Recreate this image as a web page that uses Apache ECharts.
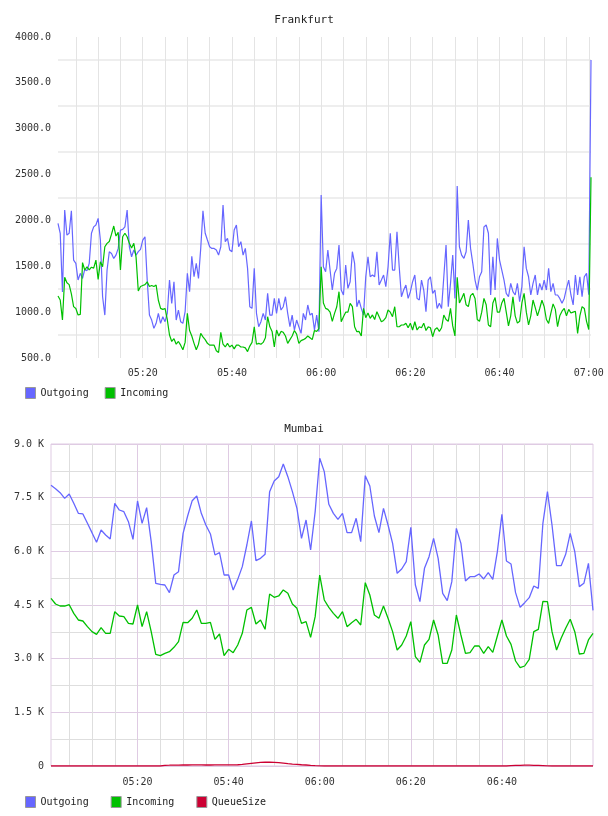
<!DOCTYPE html>
<html><head><meta charset="utf-8">
<script src="https://cdn.jsdelivr.net/npm/echarts@6/dist/echarts.min.js"></script>
<style>html,body{margin:0;padding:0;background:#fff}#c{width:608px;height:816px}</style>
</head><body><div id="c"></div>
<script>
// ---------- Frankfurt (30 s samples from 05:01:00) ----------
const fraStart = '05:01:00';
const fraStepSec = 30;
const fraOutgoing = [
 1968,1860,1220,2113,1840,1860,2105,1568,1532,1350,
 1423,1368,1466,1452,1532,1860,1930,1950,2022,1786,
 1168,968,1459,1659,1640,1586,1622,1695,1895,1902,
 1930,2113,1713,1604,1677,1622,1659,1684,1786,1822,
 1350,968,914,823,878,987,878,950,896,987,
 1350,1096,1332,914,1023,896,878,1005,1423,1223,
 1610,1386,1532,1368,1695,2105,1860,1786,1713,1695,
 1695,1677,1622,1713,2168,1768,1804,1677,1659,1895,
 1950,1713,1768,1622,1695,1477,1059,1041,1477,987,
 841,896,987,914,1205,968,968,1150,987,1150,
 1023,1059,1168,987,841,968,805,914,841,769,
 987,914,1078,968,987,805,968,787,2277,1495,
 1440,1677,1459,1241,1423,1477,1732,1241,1187,1514,
 1259,1332,1659,1532,1059,1132,1041,968,1386,1604,
 1386,1405,1386,1659,1296,1350,1405,1277,1495,1860,
 1459,1459,1877,1495,1168,1241,1296,1150,1223,1332,
 1405,1150,1132,1350,1241,1005,1350,1386,1205,1241,
 1041,1096,1041,1386,1732,1059,1314,1622,1150,2375,
 1713,1622,1586,1659,2004,1695,1532,1350,1241,1386,
 1440,1930,1950,1860,1187,1604,1241,1804,1568,1459,
 1350,1205,1168,1314,1223,1187,1314,1114,1277,1713,
 1477,1386,1187,1314,1405,1187,1314,1241,1350,1241,
 1477,1223,1314,1187,1187,1150,1096,1150,1259,1350,
 1187,1078,1405,1187,1386,1168,1386,1423,1190,3750
];
const fraIncoming = [
 1176,1132,914,1380,1320,1300,1200,1060,1040,969,
 975,1540,1459,1495,1460,1490,1480,1568,1357,1550,
 1495,1713,1750,1770,1850,1939,1830,1870,1459,1822,
 1860,1822,1750,1700,1750,1600,1230,1280,1290,1300,
 1330,1280,1290,1280,1295,1130,1041,1030,1040,920,
 751,680,710,650,680,640,590,670,987,800,
 740,660,590,650,769,730,700,660,640,640,
 640,580,560,780,650,620,660,620,640,600,
 640,640,620,620,610,570,630,670,840,650,
 660,650,670,720,950,840,790,620,805,740,
 790,780,740,660,700,740,800,760,660,690,
 700,714,740,720,700,800,790,820,1495,1100,
 1041,1030,1000,900,987,1059,1223,896,950,1000,
 1000,1096,1060,841,787,790,740,1041,940,990,
 932,970,920,1005,950,896,910,940,1023,1000,
 950,1059,841,841,860,860,878,830,880,805,
 895,805,840,830,880,800,840,830,732,810,
 830,790,830,969,920,900,1041,850,740,1380,
 1100,1150,1205,1080,1060,1180,1205,1150,920,900,
 1000,1150,1080,860,841,1100,1160,1000,1000,1100,
 1150,1000,850,960,1168,960,880,900,1100,1205,
 1000,860,960,1132,1050,960,1040,1130,1060,920,
 878,990,1090,1030,841,960,1010,1040,960,1030,
 990,1000,1010,769,960,1060,1040,900,810,2470
];
const fraYTicks = [500, 4000, 500]; // min, max, step

// ---------- Mumbai (1 min samples from 05:01:00) ----------
const mumStart = '05:01:00';
const mumStepSec = 60;
const mumOutgoing = [
 7845,7752,7640,7481,7603,7342,7062,7044,6783,6522,
 6252,6596,6457,6345,7342,7155,7109,6829,6335,7407,
 6783,7221,6270,5106,5078,5059,4845,5339,5432,6503,
 6988,7416,7547,7062,6736,6485,5898,5963,5339,5339,
 4919,5217,5572,6177,6848,5739,5804,5916,7668,7966,
 8087,8441,8087,7668,7202,6363,6876,6037,7109,8600,
 8227,7314,7062,6895,7062,6522,6522,6923,6270,8115,
 7826,6988,6522,7202,6736,6224,5385,5506,5711,6671,
 5059,4593,5525,5851,6363,5804,4826,4621,5152,6643,
 6224,5171,5292,5292,5367,5227,5404,5217,5991,7035,
 5730,5646,4845,4435,4565,4705,5031,4966,6783,7668,
 6736,5600,5600,5916,6503,5991,5013,5106,5665,4350
];
const mumIncoming = [
 4687,4528,4472,4472,4509,4267,4081,4053,3894,3755,
 3680,3866,3708,3708,4314,4193,4174,3988,3969,4500,
 3894,4314,3755,3121,3084,3149,3196,3317,3475,4016,
 4006,4128,4360,3988,3988,4016,3540,3690,3084,3261,
 3168,3382,3708,4360,4435,3969,4081,3820,4807,4715,
 4752,4920,4826,4528,4407,3988,4034,3596,4174,5338,
 4640,4435,4267,4128,4314,3894,4006,4100,3941,5124,
 4780,4221,4128,4472,4128,3755,3242,3382,3634,4034,
 3056,2897,3382,3540,4081,3662,2870,2870,3242,4221,
 3662,3149,3168,3354,3354,3149,3335,3177,3634,4081,
 3634,3401,2935,2749,2795,2981,3755,3820,4600,4593,
 3755,3242,3568,3848,4100,3755,3130,3149,3522,3708
];
const mumQueue = [
 0,0,0,0,0,0,0,0,0,0,
 0,0,0,0,0,0,0,0,0,0,
 0,0,0,0,0,20,22,25,25,28,
 28,30,30,30,28,28,30,30,30,30,
 32,35,45,60,75,90,100,105,105,102,
 95,82,68,55,45,35,28,18,10,5,
 0,0,0,0,0,0,0,0,0,0,
 0,0,0,0,0,0,0,0,0,0,
 0,0,0,0,0,0,0,0,0,0,
 0,0,0,0,0,0,0,0,0,0,
 0,8,15,20,22,22,20,18,12,6,
 0,0,0,0,0,0,0,0,0,0
];
const mumYTicks = [0, 9000, 1500];

const seriesNames = ['Outgoing', 'Incoming', 'QueueSize'];
const seriesColors = ['#6666ff', '#00c000', '#cc0033'];

function makeTimes(start, stepSec, count) {
  const p = start.split(':').map(Number);
  let t = p[0] * 3600 + p[1] * 60 + p[2];
  const out = [];
  const pad = n => String(n).padStart(2, '0');
  for (let i = 0; i < count; i++) {
    out.push(pad(Math.floor(t / 3600)) + ':' + pad(Math.floor(t / 60) % 60) + ':' + pad(t % 60));
    t += stepSec;
  }
  return out;
}
const fraTimes = makeTimes(fraStart, fraStepSec, fraOutgoing.length);
const mumTimes = makeTimes(mumStart, mumStepSec, mumOutgoing.length);

function isMark(v, m) {
  return v.slice(6) === '00' && parseInt(v.slice(3, 5), 10) % m === 0;
}

const FONT = '"DejaVu Sans Mono", monospace';
const labelStyle = { fontFamily: FONT, fontSize: 10, color: '#333' };
const PURPLE = '#dfcbe3';
const GRAY = '#dedede';

const chart = echarts.init(document.getElementById('c'), null, { renderer: 'canvas' });
chart.setOption({
  animation: false,
  backgroundColor: '#fff',
  title: [
    { text: 'Frankfurt', left: 'center', top: 15, padding: 0,
      textStyle: { fontFamily: FONT, fontSize: 11, fontWeight: 'normal', color: '#222' } },
    { text: 'Mumbai', left: 'center', top: 424, padding: 0,
      textStyle: { fontFamily: FONT, fontSize: 11, fontWeight: 'normal', color: '#222' } }
  ],
  legend: [
    { left: 25, top: 387, padding: 0, icon: 'rect', itemWidth: 10, itemHeight: 11, itemGap: 16,
      data: seriesNames.slice(0, 2), selectedMode: false,
      itemStyle: { borderColor: '#999', borderWidth: 1 },
      textStyle: { fontFamily: FONT, fontSize: 10, color: '#222' } },
    { left: 25, top: 796, padding: 0, icon: 'rect', itemWidth: 10, itemHeight: 11, itemGap: 22,
      data: seriesNames.slice(0, 3), selectedMode: false,
      itemStyle: { borderColor: '#999', borderWidth: 1 },
      textStyle: { fontFamily: FONT, fontSize: 10, color: '#222' } }
  ],
  grid: [
    { left: 58, top: 37, width: 533, height: 321, show: false },
    { left: 51, top: 444, width: 542, height: 322, show: true, borderColor: PURPLE, borderWidth: 1 }
  ],
  xAxis: [
    { gridIndex: 0, type: 'category', data: fraTimes, boundaryGap: false,
      axisLine: { show: false }, axisTick: { show: false },
      axisLabel: Object.assign({ interval: (i, v) => isMark(v, 20), formatter: v => v.slice(0, 5), margin: 10 }, labelStyle),
      splitLine: { show: true, interval: (i, v) => isMark(v, 5), lineStyle: { color: '#e4e4e4', width: 1 } } },
    { gridIndex: 1, type: 'category', data: mumTimes, boundaryGap: false,
      axisLine: { show: false }, axisTick: { show: false },
      axisLabel: Object.assign({ interval: (i, v) => isMark(v, 20) && i < mumTimes.length - 1, formatter: v => v.slice(0, 5), margin: 11 }, labelStyle),
      splitLine: { show: true, interval: (i, v) => isMark(v, 5) && !isMark(v, 20), lineStyle: { color: GRAY, width: 1 } } },
    { gridIndex: 1, type: 'category', data: mumTimes, boundaryGap: false,
      axisLine: { show: false }, axisTick: { show: false }, axisLabel: { show: false },
      splitLine: { show: true, interval: (i, v) => isMark(v, 20) && i < mumTimes.length - 1, lineStyle: { color: PURPLE, width: 1 } } }
  ],
  yAxis: [
    { gridIndex: 0, type: 'value', min: fraYTicks[0], max: fraYTicks[1], interval: fraYTicks[2],
      axisLine: { show: false }, axisTick: { show: false },
      axisLabel: Object.assign({ formatter: v => v.toFixed(1), margin: 7 }, labelStyle),
      splitLine: { show: false },
      minorTick: { show: false, splitNumber: 2 },
      minorSplitLine: { show: true, lineStyle: { color: '#eeeeee', width: 2 } } },
    { gridIndex: 1, type: 'value', min: mumYTicks[0], max: mumYTicks[1], interval: mumYTicks[2],
      axisLine: { show: false }, axisTick: { show: false },
      axisLabel: Object.assign({ formatter: v => v === 0 ? '0' : (v / 1000).toFixed(1) + ' K', margin: 7 }, labelStyle),
      splitLine: { show: true, lineStyle: { color: PURPLE, width: 1 } },
      minorTick: { show: false, splitNumber: 2 },
      minorSplitLine: { show: true, lineStyle: { color: GRAY, width: 1 } } }
  ],
  series: [
    { name: seriesNames[0], type: 'line', xAxisIndex: 0, yAxisIndex: 0, data: fraOutgoing,
      showSymbol: false, color: seriesColors[0], lineStyle: { width: 1.2, color: seriesColors[0] } },
    { name: seriesNames[1], type: 'line', xAxisIndex: 0, yAxisIndex: 0, data: fraIncoming,
      showSymbol: false, color: seriesColors[1], lineStyle: { width: 1.2, color: seriesColors[1] } },
    { name: seriesNames[0], type: 'line', xAxisIndex: 1, yAxisIndex: 1, data: mumOutgoing,
      showSymbol: false, color: seriesColors[0], lineStyle: { width: 1.3, color: seriesColors[0] } },
    { name: seriesNames[1], type: 'line', xAxisIndex: 1, yAxisIndex: 1, data: mumIncoming,
      showSymbol: false, color: seriesColors[1], lineStyle: { width: 1.3, color: seriesColors[1] } },
    { name: seriesNames[2], type: 'line', xAxisIndex: 1, yAxisIndex: 1, data: mumQueue,
      showSymbol: false, color: seriesColors[2], lineStyle: { width: 1.3, color: seriesColors[2] } }
  ]
});
</script></body></html>
